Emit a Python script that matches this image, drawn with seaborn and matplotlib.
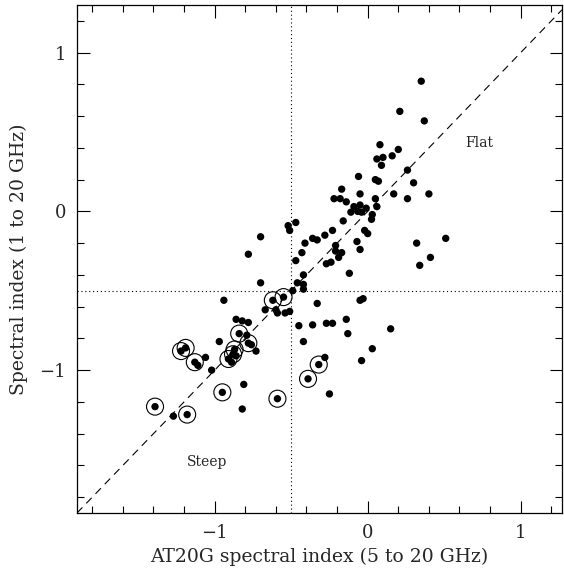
import matplotlib
matplotlib.use("Agg")
import matplotlib.pyplot as plt
from matplotlib.ticker import MultipleLocator
import seaborn as sns
import pandas as pd

# ---- data ----
dot_x = [0.35, 0.21, 0.37, 0.08, 0.20, 0.16, 0.10, 0.06, 0.09, 0.26,
         -0.06, 0.05, 0.07, 0.30, -0.17, -0.22, -0.18, -0.05, 0.17, 0.40,
         0.05, 0.26, -0.14, -0.09, -0.05, -0.01, 0.06, -0.04, -0.065, -0.11,
         0.03, 0.025, -0.16, -0.52, -0.47, -0.51, -0.23, -0.28, -0.36, -0.33,
         -0.41, -0.21, -0.07, -0.02, 0.0, -0.05, -0.43, -0.17, -0.19, -0.21,
         -0.47, -0.27, -0.24, -0.12, -0.42, -0.46, -0.49, -0.42, -0.42, -0.05,
         -0.03, -0.33, 0.32, 0.51, 0.41, 0.34, -0.70, -0.78, -0.70,
         -0.54, -0.51, -0.45, -0.36, -0.27, -0.23, -0.14, -0.13, 0.15, -0.42,
         0.03, -0.04, -0.28, -0.25, -0.67, -0.60, -0.59, -0.94, -0.86, -0.82,
         -0.78, -0.79, -0.76, -0.73, -0.97, -1.06, -1.02, -1.11, -0.81, -0.82,
         -1.27, -0.89, -0.86]
dot_y = [0.82, 0.63, 0.57, 0.42, 0.39, 0.35, 0.34, 0.33, 0.29, 0.26,
         0.22, 0.20, 0.19, 0.18, 0.14, 0.08, 0.08, 0.11, 0.11, 0.11,
         0.08, 0.08, 0.06, 0.03, 0.04, 0.02, 0.03, -0.005, 0.0, -0.005,
         -0.02, -0.05, -0.06, -0.09, -0.07, -0.12, -0.12, -0.15, -0.17, -0.18,
         -0.20, -0.215, -0.19, -0.12, -0.14, -0.24, -0.26, -0.26, -0.29, -0.25,
         -0.31, -0.33, -0.32, -0.39, -0.40, -0.45, -0.50, -0.46, -0.49, -0.56,
         -0.55, -0.58, -0.20, -0.17, -0.29, -0.34, -0.16, -0.27, -0.45,
         -0.64, -0.63, -0.72, -0.715, -0.705, -0.705, -0.68, -0.77, -0.74, -0.82,
         -0.865, -0.94, -0.92, -1.15, -0.62, -0.62, -0.64, -0.56, -0.68, -0.69,
         -0.70, -0.78, -0.84, -0.88, -0.82, -0.92, -1.00, -0.97, -1.09, -1.245,
         -1.29, -0.95, -0.91]

circ_x = [-0.62, -0.55, -1.22, -1.19, -1.13, -0.95, -1.39, -1.18, -0.84, -0.78,
          -0.91, -0.88, -0.87, -0.32, -0.39, -0.59]
circ_y = [-0.56, -0.54, -0.88, -0.86, -0.95, -1.14, -1.23, -1.28, -0.77, -0.83,
          -0.93, -0.90, -0.87, -0.965, -1.055, -1.18]

split_x = -0.5
split_y = -0.5
x_limits = (-1.9, 1.27)
y_limits = (-1.9, 1.3)
labels = {"Flat": (0.73, 0.43), "Steep": (-1.05, -1.58)}
xlabel = "AT20G spectral index (5 to 20 GHz)"
ylabel = "Spectral index (1 to 20 GHz)"

dots = pd.DataFrame({"x": dot_x + circ_x, "y": dot_y + circ_y})
circs = pd.DataFrame({"x": circ_x, "y": circ_y})

sns.set_style("ticks")
plt.rcParams["font.family"] = ["DejaVu Serif"]
plt.rcParams["mathtext.fontset"] = "dejavuserif"

fig = plt.figure(figsize=(5.64, 5.71), dpi=100)
ax = fig.add_axes([77 / 564, 1 - 513 / 571, 485 / 564, 508 / 571])

sns.scatterplot(data=dots, x="x", y="y", ax=ax, color="black", s=28,
                edgecolor="none", linewidth=0, zorder=3)
sns.scatterplot(data=circs, x="x", y="y", ax=ax, s=150, facecolor="none",
                edgecolor="black", linewidth=0.8, zorder=4)

ax.axline((0, 0), slope=1, color="black", lw=0.8, ls=(0, (7, 5)), zorder=1)
ax.axvline(split_x, color="black", lw=0.8, ls=(0, (1, 2.5)), zorder=1)
ax.axhline(split_y, color="black", lw=0.8, ls=(0, (1, 2.5)), zorder=1)

for txt, (tx, ty) in labels.items():
    ax.text(tx, ty, txt, fontsize=10, ha="center", va="center")

ax.set_xlim(*x_limits)
ax.set_ylim(*y_limits)
ax.xaxis.set_major_locator(MultipleLocator(1))
ax.yaxis.set_major_locator(MultipleLocator(1))
ax.xaxis.set_minor_locator(MultipleLocator(0.2))
ax.yaxis.set_minor_locator(MultipleLocator(0.2))
ax.tick_params(which="both", direction="in", top=True, right=True,
               labelsize=13, width=0.8, color="black")
ax.tick_params(which="major", length=9, pad=8)
ax.tick_params(which="minor", length=5)
for sp in ax.spines.values():
    sp.set_linewidth(0.9)
    sp.set_color("black")

ax.set_xlabel(xlabel, fontsize=13.5, labelpad=4)
ax.set_ylabel(ylabel, fontsize=13.5, labelpad=8)

fig.savefig("out.png", dpi=100)
